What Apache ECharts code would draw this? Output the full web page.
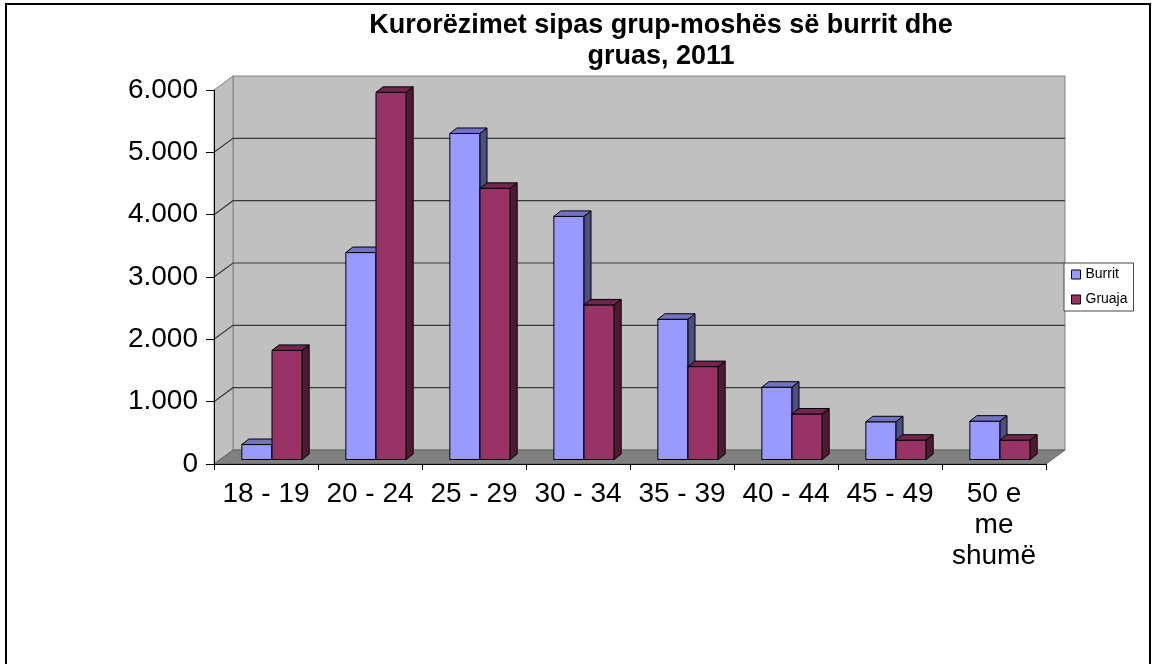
<!DOCTYPE html>
<html>
<head>
<meta charset="utf-8">
<title>Kurorëzimet sipas grup-moshës, 2011</title>
<script src="https://cdn.jsdelivr.net/npm/echarts/dist/echarts.min.js"></script>
<style>
  html, body { margin: 0; padding: 0; background: #fff; }
  #main { width: 1156px; height: 664px; }
</style>
</head>
<body>
<div id="main"></div>
<script>
// data
var categories = ['18 - 19', '20 - 24', '25 - 29', '30 - 34', '35 - 39', '40 - 44', '45 - 49', '50 e\nme\nshumë']
var burrit = [240, 3320, 5230, 3900, 2250, 1160, 605, 615]
var gruaja = [1750, 5890, 4350, 2480, 1490, 730, 310, 310]
var yTicks = [0, 1000, 2000, 3000, 4000, 5000, 6000]
var seriesNames = ['Burrit', 'Gruaja']

var FONT = 'Liberation Sans, Arial, sans-serif'
var DEPTH = [19, -14]       // floor / wall depth
var BAR_SHIFT = [6, -4.5]   // bars stand a bit behind the front edge
var BAR_DEPTH = [7, -5.5]

var chart = echarts.init(document.getElementById('main'))

function pairs(values) {
  return values.map(function(v, i) { return [i, v] })
}

function fmt(v) {
  return String(v).replace(/\B(?=(\d{3})+(?!\d))/g, '.')
}

// back wall, left wall, floor and gridlines of the 3D box
function renderWalls(params, api) {
  var cs = params.coordSys
  var x0 = cs.x
  var x1 = cs.x + cs.width
  var yt = cs.y
  var yb = cs.y + cs.height
  var dx = DEPTH[0]
  var dy = DEPTH[1]
  var children = [
    {
      type: 'rect',
      shape: { x: x0 + dx, y: yt + dy, width: cs.width, height: cs.height },
      style: { fill: '#C0C0C0', stroke: '#808080', lineWidth: 1 }
    },
    {
      type: 'polygon',
      shape: { points: [[x0, yb], [x0, yt], [x0 + dx, yt + dy], [x0 + dx, yb + dy]] },
      style: { fill: '#C0C0C0', stroke: '#808080', lineWidth: 1 }
    }
  ]
  yTicks.forEach(function(t) {
    if (t === 0 || t === 6000) return
    var y = api.coord([0, t])[1]
    children.push({
      type: 'polyline',
      shape: { points: [[x0, y], [x0 + dx, y + dy], [x1 + dx, y + dy]] },
      style: { stroke: '#3a3a3a', lineWidth: 1.2, fill: null }
    })
  })
  children.push({
    type: 'polygon',
    shape: { points: [[x0, yb], [x1, yb], [x1 + dx, yb + dy], [x0 + dx, yb + dy]] },
    style: { fill: '#808080', stroke: '#606060', lineWidth: 1 }
  })
  return { type: 'group', children: children }
}

function barRenderer(idx, colors) {
  return function(params, api) {
    var ci = api.value(0)
    var v = api.value(1)
    var p0 = api.coord([ci, 0])
    var p1 = api.coord([ci, v])
    var band = api.size([1, 0])[0]
    var w = band * 0.29
    var l = p0[0] - w + idx * w + BAR_SHIFT[0]
    var r = l + w
    var yb = p0[1] + BAR_SHIFT[1]
    var yt = p1[1] + BAR_SHIFT[1]
    var dx = BAR_DEPTH[0]
    var dy = BAR_DEPTH[1]
    return {
      type: 'group',
      children: [
        {
          type: 'polygon',
          shape: { points: [[l, yb], [l, yt], [r, yt], [r, yb]] },
          style: { fill: colors[0], stroke: '#000', lineWidth: 1 }
        },
        {
          type: 'polygon',
          shape: { points: [[l, yt], [l + dx, yt + dy], [r + dx, yt + dy], [r, yt]] },
          style: { fill: colors[1], stroke: '#000', lineWidth: 1 }
        },
        {
          type: 'polygon',
          shape: { points: [[r, yb], [r, yt], [r + dx, yt + dy], [r + dx, yb + dy]] },
          style: { fill: colors[2], stroke: '#000', lineWidth: 1 }
        }
      ]
    }
  }
}

chart.setOption({
  animation: false,
  graphic: [
    {
      type: 'rect',
      shape: { x: 6, y: 4, width: 1144, height: 700 },
      style: { fill: null, stroke: '#000', lineWidth: 2 },
      z: 0
    },
    {
      type: 'text',
      x: 661,
      y: 10,
      style: {
        text: 'Kurorëzimet sipas grup-moshës së burrit dhe\ngruas, 2011',
        align: 'center',
        verticalAlign: 'top',
        font: 'bold 27px ' + FONT,
        lineHeight: 31,
        fill: '#000'
      }
    }
  ],
  legend: {
    orient: 'vertical',
    left: 1064,
    top: 263,
    padding: [4, 6, 4, 7],
    itemGap: 10,
    itemWidth: 9,
    itemHeight: 9,
    borderColor: '#444',
    borderWidth: 1,
    backgroundColor: '#fff',
    textStyle: { fontSize: 14, lineHeight: 15, color: '#000', fontFamily: FONT },
    data: [
      { name: 'Burrit', icon: 'rect', itemStyle: { color: '#9999FF', borderColor: '#000', borderWidth: 1 } },
      { name: 'Gruaja', icon: 'rect', itemStyle: { color: '#993366', borderColor: '#000', borderWidth: 1 } }
    ]
  },
  grid: {
    left: 214,
    right: 110,
    top: 90,
    bottom: 200,
    outerBoundsMode: 'none'
  },
  xAxis: {
    type: 'category',
    data: categories,
    boundaryGap: true,
    z: 5,
    axisLine: { show: true, lineStyle: { color: '#000', width: 1 } },
    axisTick: { show: true, length: 6, alignWithLabel: false, lineStyle: { color: '#000' } },
    axisLabel: {
      interval: 0,
      margin: 15,
      fontSize: 28,
      lineHeight: 31,
      color: '#000',
      fontFamily: FONT
    },
    splitLine: { show: false }
  },
  yAxis: {
    type: 'value',
    min: 0,
    max: 6000,
    interval: 1000,
    z: 5,
    axisLine: { show: true, lineStyle: { color: '#000', width: 1 } },
    axisTick: { show: true, length: 8, lineStyle: { color: '#000' } },
    axisLabel: {
      margin: 16,
      fontSize: 28,
      color: '#000',
      fontFamily: FONT,
      formatter: fmt
    },
    splitLine: { show: false }
  },
  series: [
    {
      name: 'walls',
      type: 'custom',
      silent: true,
      z: 1,
      renderItem: renderWalls,
      encode: { x: 0, y: 1 },
      data: [[0, 0]]
    },
    {
      name: seriesNames[0],
      type: 'custom',
      z: 2,
      itemStyle: { color: '#9999FF' },
      renderItem: barRenderer(0, ['#9999FF', '#7373C4', '#4D4D80']),
      encode: { x: 0, y: 1 },
      data: pairs(burrit)
    },
    {
      name: seriesNames[1],
      type: 'custom',
      z: 3,
      itemStyle: { color: '#993366' },
      renderItem: barRenderer(1, ['#993366', '#73264D', '#4D1A33']),
      encode: { x: 0, y: 1 },
      data: pairs(gruaja)
    }
  ]
})
</script>
</body>
</html>
